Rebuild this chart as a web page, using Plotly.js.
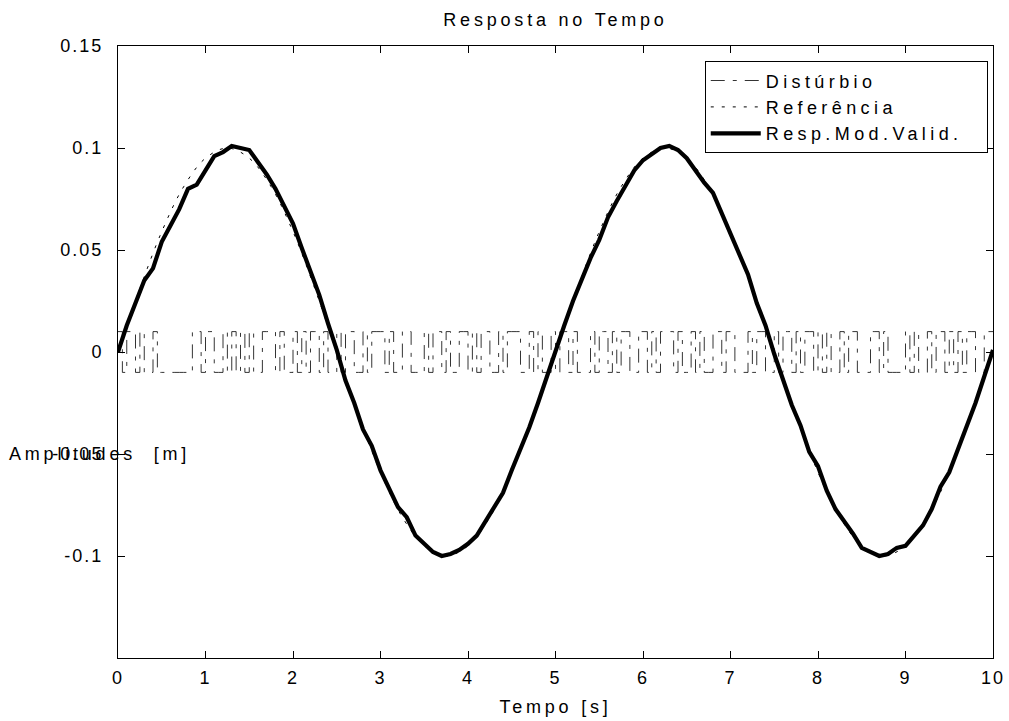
<!DOCTYPE html>
<html>
<head>
<meta charset="utf-8">
<script src="https://cdn.plot.ly/plotly-3.0.1.min.js"></script>
<style>
body{margin:0;padding:0;background:#fff}
#chart{width:1009px;height:721px}
.gtitle, .xtitle, .annotation-text {letter-spacing:3.8px}
.legendtext {letter-spacing:4.4px}
.xtick text, .ytick text {letter-spacing:2px}
</style>
</head>
<body>
<div id="chart"></div>
<script>
var respT = [];
for (var i = 0; i <= 100; i++) respT.push(+(i * 0.1).toFixed(2));
var respY = [
  0.000, 0.013, 0.024, 0.035, 0.041, 0.054, 0.062, 0.070, 0.080, 0.082,
  0.089, 0.096, 0.098, 0.101, 0.100, 0.099, 0.093, 0.087, 0.080, 0.072,
  0.063, 0.051, 0.040, 0.028, 0.014, 0.001, -0.014, -0.025, -0.038, -0.046,
  -0.058, -0.067, -0.076, -0.081, -0.090, -0.094, -0.098, -0.100, -0.099, -0.097,
  -0.094, -0.090, -0.083, -0.076, -0.069, -0.058, -0.048, -0.037, -0.025, -0.012,
  0.000,
  0.013, 0.025, 0.036, 0.046, 0.055, 0.066, 0.074, 0.082, 0.089,
  0.094, 0.097, 0.100, 0.101, 0.099, 0.095, 0.089, 0.083, 0.078, 0.068,
  0.059, 0.048, 0.038, 0.024, 0.013, -0.001, -0.013, -0.026, -0.036, -0.049,
  -0.056, -0.068, -0.077, -0.083, -0.089, -0.096, -0.098, -0.100, -0.099, -0.096,
  -0.095, -0.090, -0.085, -0.077, -0.066, -0.059, -0.048, -0.037, -0.025, -0.012, 0.001
];

// Reference (dotted) read every 0.25 s
var refT = [0,0.25,0.5,0.75,1,1.25,1.5,1.75,2,2.25,2.5,2.75,3,3.25,3.5,3.75,4,4.25,4.5,4.75,
            5,5.25,5.5,5.75,6,6.25,6.5,6.75,7,7.25,7.5,7.75,8,8.25,8.5,8.75,9,9.25,9.5,9.75,10];
var refY = [0,0.031,0.059,0.081,0.095,0.100,0.095,0.081,0.059,0.031,0,-0.031,-0.059,-0.081,-0.095,-0.100,-0.095,-0.081,-0.059,-0.031,
            0,0.031,0.059,0.081,0.095,0.100,0.095,0.081,0.059,0.031,0,-0.031,-0.059,-0.081,-0.095,-0.100,-0.095,-0.081,-0.059,-0.031,0];

// Disturbance: binary signal of level +/-0.01, one sign every 0.05 s
var distLevel = 0.01;
var distStep = 0.05;
var distSign = [
  1,-1,1,1,-1,1,-1,-1,1,-1, -1,-1,-1,-1,-1,-1,-1,1,1,-1, 1,1,-1,-1,1,-1,1,-1,1,-1, 1,-1,-1,1,1,1,-1,1,-1,-1,
  1,-1,1,-1,1,1,-1,1,-1,-1, 1,-1,1,1,-1,-1,1,-1,1,1, 1,-1,1,-1,-1,1,1,-1,-1,-1, 1,-1,1,1,-1,1,-1,-1,1,1,
  -1,1,-1,1,1,-1,-1,1,-1,1, 1,1,-1,-1,1,-1,1,-1,-1,1, -1,1,1,-1,1,-1,-1,-1,1,-1, 1,1,-1,1,-1,1,1,-1,-1,1,
  1,-1,1,-1,1,1,1,-1,1,-1, -1,1,-1,1,-1,-1,1,1,-1,1, 1,-1,-1,-1,1,-1,1,1,-1,-1, 1,-1,1,1,-1,1,-1,1,1,-1,
  1,-1,1,-1,-1,1,-1,1,1,-1, -1,-1,1,1,-1,1,-1,-1,-1,-1, 1,-1,1,-1,-1,1,-1,1,1,-1, 1,-1,1,-1,1,1,-1,-1,1,1,
  1
];
var distT = [], distY = [];
for (var k = 0; k < distSign.length; k++) {
  distT.push(+(k * distStep).toFixed(3));
  distY.push(distSign[k] * distLevel);
}

var yTickVals = [-0.1, -0.05, 0, 0.05, 0.1, 0.15];
var yTickText = ['-0.1', '-0.05', '0', '0.05', '0.1', '0.15'];
var xTickVals = [0,1,2,3,4,5,6,7,8,9,10];
var seriesNames = ['Distúrbio', 'Referência', 'Resp.Mod.Valid.\u00a0\u00a0'];

var font = 'Liberation Sans, Arial, sans-serif';
var fs = 18;

var traces = [
  {x: distT, y: distY, name: seriesNames[0], mode: 'lines', line: {shape: 'hv', color: '#000', width: 0.8, dash: '14px,8px,4px,8px'}},
  {x: refT, y: refY, name: seriesNames[1], mode: 'lines', line: {shape: 'spline', color: '#000', width: 1, dash: '3px,8px'}},
  {x: respT, y: respY, name: seriesNames[2], mode: 'lines', line: {color: '#000', width: 4.2}}
];

var layout = {
  width: 1009, height: 721,
  margin: {l: 118, r: 16, t: 46, b: 63},
  paper_bgcolor: '#fff', plot_bgcolor: '#fff',
  font: {family: font, size: fs, color: '#000'},
  title: {text: 'Resposta no Tempo', font: {family: font, size: fs, color: '#000'}, x: 0.5, xref: 'paper', xanchor: 'center', y: 0.972, yanchor: 'middle'},
  showlegend: true,
  legend: {x: 0.994, y: 0.975, xanchor: 'right', yanchor: 'top', bgcolor: '#fff', bordercolor: '#000', borderwidth: 1,
           font: {family: font, size: fs, color: '#000'}, tracegroupgap: 0, itemwidth: 50},
  xaxis: {range: [0, 10], tickvals: xTickVals, ticks: 'inside', ticklen: 7, tickcolor: '#000', showline: true, linecolor: '#000', linewidth: 1,
          mirror: 'ticks', showgrid: false, zeroline: false, tickfont: {size: fs, family: font, color: '#000'}, ticklabelstandoff: 3,
          title: {text: 'Tempo [s]', font: {size: fs, family: font, color: '#000'}, standoff: 13}},
  yaxis: {range: [-0.15, 0.15], tickvals: yTickVals, ticktext: yTickText, ticks: 'inside', ticklen: 7, tickcolor: '#000', showline: true,
          linecolor: '#000', linewidth: 1, mirror: 'ticks', showgrid: false, zeroline: false, tickfont: {size: fs, family: font, color: '#000'},
          ticklabelstandoff: 10},
  annotations: [{text: 'Amplitudes  [m]', xref: 'paper', yref: 'y', x: -0.0217, y: -0.05, xanchor: 'center', yanchor: 'middle', showarrow: false,
                 font: {size: fs, family: font, color: '#000'}}]
};

Plotly.newPlot('chart', traces, layout, {displayModeBar: false, staticPlot: true});
</script>
</body>
</html>
